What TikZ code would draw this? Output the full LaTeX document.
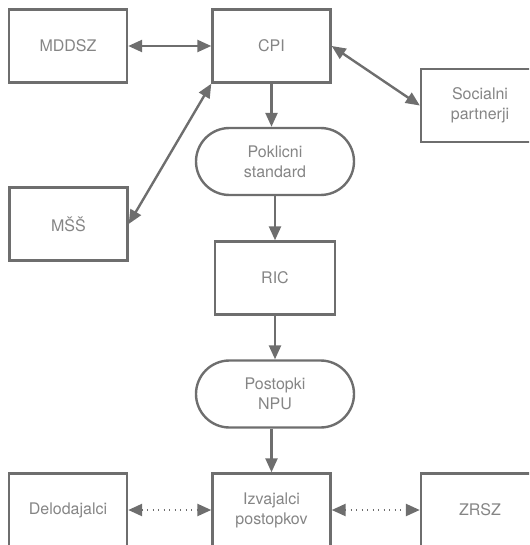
\documentclass[tikz,border=0pt]{standalone}
\usepackage{fontspec}
\setmainfont{TeX Gyre Heros}
\usetikzlibrary{arrows.meta,shapes.misc}
\definecolor{lc}{HTML}{6E6E6E}
\definecolor{tc}{HTML}{858585}
\tikzset{hd/.tip={Triangle[length=14pt,width=12pt]}}
\begin{document}
\begin{tikzpicture}[x=1pt,y=-1pt,
  every node/.style={text=tc,font=\fontsize{16}{20}\selectfont,align=center,line width=2.4pt,draw=lc},
  box/.style={minimum width=118pt,minimum height=73pt,inner sep=0pt},
  pill/.style={rounded rectangle,minimum width=158pt,minimum height=67pt,inner sep=0pt},
  arr/.style={draw=lc,line width=2.4pt,-{hd}},
  twoarr/.style={draw=lc,line width=2.4pt,{hd}-{hd}},
  dotarr/.style={twoarr,line width=2.4pt,dash pattern=on 1.2pt off 4.3pt}]
\clip (0,0) rectangle (529,545);
% top row
\node[box] (mddsz) at (68,46) {MDDSZ};
\node[box] (cpi) at (271.5,46) {CPI};
\node[box] (soc) at (480,105.5) {Socialni\\partnerji};
\node[box] (mss) at (68.5,224) {MŠŠ};
% middle column
\node[pill] (pokl) at (275,161.5) {Poklicni\\standard};
\node[box,minimum width=120pt] (ric) at (275,278) {RIC};
\node[pill] (npu) at (275,394) {Postopki\\NPU};
% bottom row
\node[box] (delo) at (68,510) {Delodajalci};
\node[box] (izv) at (271.5,510) {Izvajalci\\postopkov};
\node[box] (zrsz) at (480,510) {ZRSZ};
\draw[twoarr] (mddsz) -- (cpi);
\draw[twoarr] (cpi.east) -- (soc.west);
\draw[twoarr] (cpi.south west) -- (mss.east);
\draw[arr] (cpi.south) -- (cpi.south |- pokl.north);
\draw[arr] (pokl.south) -- (ric.north);
\draw[arr] (ric.south) -- (npu.north);
\draw[arr] (izv.north |- npu.south) -- (izv.north);
\draw[dotarr] (delo) -- (izv);
\draw[dotarr] (izv) -- (zrsz);
\end{tikzpicture}
\end{document}
